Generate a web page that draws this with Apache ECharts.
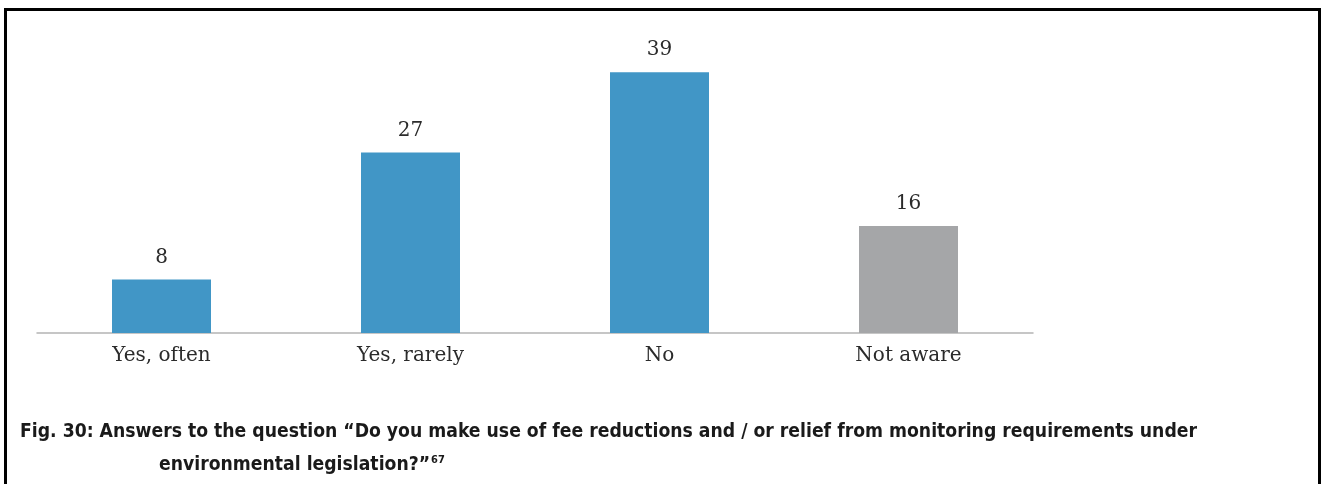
<!DOCTYPE html>
<html>
<head>
<meta charset="utf-8">
<script src="https://cdn.jsdelivr.net/npm/echarts@6/dist/echarts.min.js"></script>
<style>
  html, body { margin: 0; padding: 0; background: #fff; }
  #chart { width: 1322px; height: 484px; }
</style>
</head>
<body>
<div id="chart"></div>
<script>
// answers to the survey question
var categories = ['Yes, often', 'Yes, rarely', 'No', 'Not aware'];
var values = [8, 27, 39, 16];
var barColors = ['#4196c6', '#4196c6', '#4196c6', '#a5a6a8'];

var captionLine1 = 'Fig. 30: Answers to the question \u201cDo you make use of fee reductions and / or relief from monitoring requirements under';
var captionLine2 = 'environmental legislation?\u201d';
var footnote = '67';

var chart = echarts.init(document.getElementById('chart'));

var option = {
  animation: false,
  title: [
    {
      text: captionLine1,
      left: 15,
      top: 418,
      textStyle: {
        fontFamily: 'DejaVu Sans Condensed',
        fontWeight: 'bold',
        fontSize: 19.2,
        color: '#1a1a1a'
      }
    },
    {
      text: captionLine2 + '{sup|' + footnote + '}',
      left: 154,
      top: 450,
      textStyle: {
        fontFamily: 'DejaVu Sans Condensed',
        fontWeight: 'bold',
        fontSize: 19.2,
        color: '#1a1a1a',
        rich: {
          sup: {
            fontFamily: 'DejaVu Sans Condensed',
            fontWeight: 'bold',
            fontSize: 11,
            color: '#1a1a1a',
            padding: [0, 0, 10, 1]
          }
        }
      }
    }
  ],
  graphic: [
    {
      type: 'polyline',
      shape: { points: [[5.5, 484], [5.5, 9.5], [1319.5, 9.5], [1319.5, 484]] },
      style: { stroke: '#000', lineWidth: 3, fill: null }
    }
  ],
  grid: {
    left: 37,
    width: 996,
    top: 32,
    bottom: 151
  },
  xAxis: {
    type: 'category',
    data: categories,
    axisLine: { lineStyle: { color: '#b4b4b4', width: 1.5 } },
    axisTick: { show: false },
    axisLabel: {
      margin: 13,
      fontFamily: 'DejaVu Serif',
      fontSize: 20,
      color: '#2b2b2b'
    }
  },
  yAxis: {
    type: 'value',
    min: 0,
    max: 45,
    show: false,
    splitLine: { show: false }
  },
  series: [
    {
      type: 'bar',
      barWidth: 99,
      data: values.map(function (v, i) {
        return { value: v, itemStyle: { color: barColors[i] } };
      }),
      label: {
        show: true,
        position: 'top',
        distance: 12,
        fontFamily: 'DejaVu Serif',
        fontSize: 20,
        color: '#2b2b2b'
      }
    }
  ]
};
chart.setOption(option);
</script>
</body>
</html>
